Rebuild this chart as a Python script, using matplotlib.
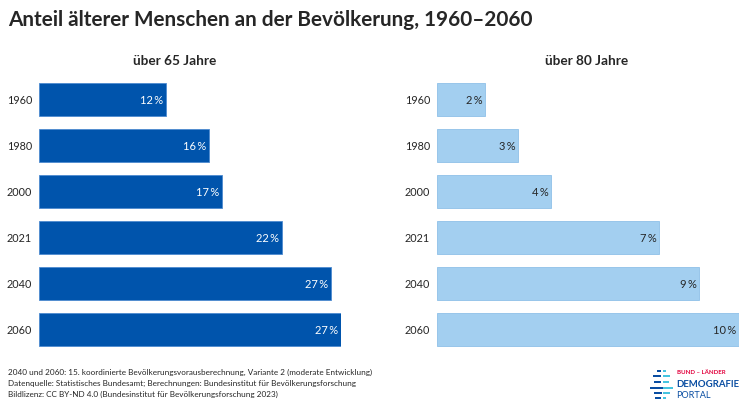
import matplotlib
matplotlib.use('Agg')
import matplotlib.pyplot as plt
from matplotlib.patches import Rectangle

plt.rcParams['font.family'] = ['Lato', 'DejaVu Sans']

years = ['1960', '1980', '2000', '2021', '2040', '2060']
over65 = [11.55, 15.45, 16.65, 22.1, 26.55, 27.4]
over80 = [1.6, 2.7, 3.8, 7.4, 8.73, 10.05]
labels65 = ['12\u2009%', '16\u2009%', '17\u2009%', '22\u2009%', '27\u2009%', '27\u2009%']
labels80 = ['2\u2009%', '3\u2009%', '4\u2009%', '7\u2009%', '9\u2009%', '10\u2009%']

W, H = 746, 407
DARK = '#262626'
BLUE = '#0054ac'
LIGHT = '#a3cff0'


def make_axes(x0, x1, y0, y1):
    return fig.add_axes([x0 / W, 1 - y1 / H, (x1 - x0) / W, (y1 - y0) / H])


def bars(ax, vals, labels, color, edge, txt):
    pos = list(range(len(vals)))
    ax.barh(pos, vals, height=33 / 46, color=color, edgecolor=edge, linewidth=0.6)
    ax.set_ylim(5.5, -0.5)
    ax.set_xlim(0, max(vals))
    ax.set_yticks(pos)
    ax.set_yticklabels(years, fontsize=7.8, color=DARK)
    ax.set_xticks([])
    ax.tick_params(axis='y', length=0, pad=5)
    for s in ax.spines.values():
        s.set_visible(False)
    for p, v, l in zip(pos, vals, labels):
        ax.annotate(l, (v, p), xytext=(-2, -0.5), textcoords='offset points',
                    ha='right', va='center', fontsize=8, color=txt)


fig = plt.figure(figsize=(W / 100, H / 100), dpi=100)

ax1 = make_axes(39, 340.5, 76.5, 352.5)
ax2 = make_axes(437, 739, 76.5, 352.5)
bars(ax1, over65, labels65, BLUE, '#4d8ad0', 'white')
bars(ax2, over80, labels80, LIGHT, '#8fc0e8', DARK)

fig.text(8 / W, 1 - 20 / H, 'Anteil älterer Menschen an der Bevölkerung, 1960–2060',
         fontsize=14.95, fontweight='bold', color=DARK, va='center')
fig.text(174.5 / W, 1 - 61 / H, 'über 65 Jahre', fontsize=9.8, fontweight='bold',
         color=DARK, ha='center', va='center')
fig.text(587 / W, 1 - 61 / H, 'über 80 Jahre', fontsize=9.8, fontweight='bold',
         color=DARK, ha='center', va='center')

notes = ['2040 und 2060: 15. koordinierte Bevölkerungsvorausberechnung, Variante 2 (moderate Entwicklung)',
         'Datenquelle: Statistisches Bundesamt; Berechnungen: Bundesinstitut für Bevölkerungsforschung',
         'Bildlizenz: CC BY-ND 4.0 (Bundesinstitut für Bevölkerungsforschung 2023)']
for y, n in zip([372, 383.5, 394.5], notes):
    fig.text(8 / W, 1 - y / H, n, fontsize=5.9, color=DARK, va='center')

# logo
logo = fig.add_axes([0, 0, 1, 1], zorder=5)
logo.set_xlim(0, W)
logo.set_ylim(H, 0)
logo.axis('off')
NAVY = '#0a4ea2'
CYAN = '#45c4e0'
marks = [(657, 369.5, 4, NAVY), (663, 369.5, 3, CYAN),
         (653, 375, 8, NAVY), (663, 375, 7, CYAN),
         (654, 381, 7, NAVY), (663, 381, 6, CYAN),
         (649.5, 386.5, 13, NAVY), (663, 386.5, 10, CYAN),
         (654, 391.5, 8, NAVY), (663, 391.5, 7, CYAN),
         (655, 397, 6, NAVY), (663, 397, 3, CYAN)]
for x, y, w, c in marks:
    logo.add_patch(Rectangle((x, y), w, 2, color=c, lw=0))
logo.text(677, 373, 'BUND – LÄNDER', fontsize=4.4, fontweight='bold', color='#e2003c', va='center')
logo.text(676.5, 384.5, 'DEMOGRAFIE', fontsize=6.9, fontweight='bold', color=NAVY, va='center')
logo.text(676.5, 396, 'PORTAL', fontsize=6.6, color=NAVY, va='center')

fig.savefig('out.png', dpi=100)
